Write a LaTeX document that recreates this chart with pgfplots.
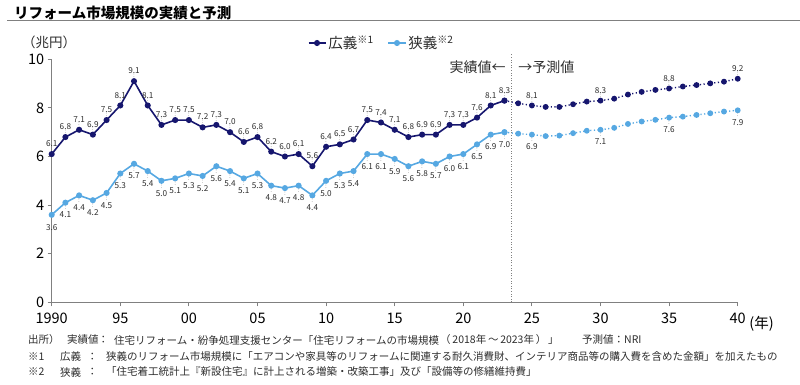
\documentclass[border=0pt]{standalone}
\usepackage{pgfplots}
\pgfplotsset{compat=1.18}
\usepackage{fontspec}
\setmainfont{Noto Sans CJK JP}
\definecolor{navy}{RGB}{22,22,110}
\definecolor{lblue}{RGB}{86,168,226}
\definecolor{axgray}{RGB}{128,128,128}
\definecolor{txt}{RGB}{45,45,45}
\pgfplotsset{
  lblabove/.style={nodes near coords={\shortstack{\pgfmathprintnumber[fixed,precision=1,zerofill]{\pgfplotspointmeta}\\[-3pt]{\color{gray}\fontsize{6.5}{6.5}\selectfont :}}},
    every node near coord/.style={font=\fontsize{8.2}{9}\selectfont, text=txt, anchor=south, inner sep=0pt, yshift=3pt}},
  lblbelow/.style={nodes near coords={\shortstack{{\color{gray}\fontsize{6.5}{6.5}\selectfont :}\\[-1pt]\pgfmathprintnumber[fixed,precision=1,zerofill]{\pgfplotspointmeta}}},
    every node near coord/.style={font=\fontsize{8.2}{9}\selectfont, text=txt, anchor=north, inner sep=0pt, yshift=-3pt}},
}
\begin{document}
\begin{tikzpicture}[x=1pt,y=1pt]
\useasboundingbox (0pt,0pt) rectangle (800pt,384pt);
\node[anchor=west,inner sep=0pt,font=\fontsize{14.5}{16}\selectfont\bfseries,text=black] at (14pt,371.5pt) {リフォーム市場規模の実績と予測};
\draw[axgray,line width=1.3] (7pt,363.3pt) -- (800pt,363.3pt);
\node[anchor=west,inner sep=0pt,font=\fontsize{13.5}{15}\selectfont,text=txt] at (22pt,342pt) {（兆円）};
\begin{axis}[at={(51.7pt,81.7pt)}, anchor=south west, scale only axis,
  width=686pt, height=243pt,
  xmin=1990, xmax=2040, ymin=0, ymax=10,
  axis lines=left, axis line style={axgray, line width=1.2pt, -},
  xtick={1990,1995,...,2040},
  xticklabels={1990,95,00,05,10,15,20,25,30,35,40},
  ytick={0,2,...,10},
  tick align=outside, major tick length=4pt,
  tick style={axgray, line width=1pt},
  ticklabel style={font=\fontsize{14.5}{16}\selectfont, text=black},
  xticklabel style={yshift=-3pt},
  /pgf/number format/assume math mode=true,
  clip=false,
  legend style={at={(0.481,1.067)}, anchor=center, draw=none, fill=none,
    font=\fontsize{14.5}{16}\selectfont, text=txt,
    legend columns=2, /tikz/every even column/.append style={column sep=12pt}},
]
\addplot[navy, line width=1.6pt, mark=*, mark size=2.2pt, point meta=y, lblabove] table {
1990 6.1
1991 6.8
1992 7.1
1993 6.9
1994 7.5
1995 8.1
1996 9.1
1997 8.1
1998 7.3
1999 7.5
2000 7.5
2001 7.2
2002 7.3
2003 7.0
2004 6.6
2005 6.8
2006 6.2
2007 6.0
2008 6.1
2009 5.6
2010 6.4
2011 6.5
2012 6.7
2013 7.5
2014 7.4
2015 7.1
2016 6.8
2017 6.9
2018 6.9
2019 7.3
2020 7.3
2021 7.6
2022 8.1
2023 8.3
};
\addlegendentry{広義\textsuperscript{※1}}
\addplot[lblue, line width=1.6pt, mark=*, mark size=2.2pt, point meta=y, lblbelow] table {
1990 3.6
1991 4.1
1992 4.4
1993 4.2
1994 4.5
1995 5.3
1996 5.7
1997 5.4
1998 5.0
1999 5.1
2000 5.3
2001 5.2
2002 5.6
2003 5.4
2004 5.1
2005 5.3
2006 4.8
2007 4.7
2008 4.8
2009 4.4
2010 5.0
2011 5.3
2012 5.4
2013 6.1
2014 6.1
2015 5.9
2016 5.6
2017 5.8
2018 5.7
2019 6.0
2020 6.1
2021 6.5
2022 6.9
2023 7.0
};
\addlegendentry{狭義\textsuperscript{※2}}
\addplot[navy, line width=1.4pt, dash pattern=on 1.2pt off 2.4pt, mark=*, mark size=2.2pt, mark options={solid}, forget plot] table {
2023 8.3
2024 8.19
2025 8.1
2026 8.04
2027 8.04
2028 8.15
2029 8.26
2030 8.3
2031 8.38
2032 8.55
2033 8.66
2034 8.74
2035 8.8
2036 8.88
2037 8.94
2038 9.01
2039 9.08
2040 9.2
};
\addplot[lblue, line width=1.4pt, dash pattern=on 1.2pt off 2.4pt, mark=*, mark size=2.2pt, mark options={solid}, forget plot] table {
2023 7.0
2024 6.94
2025 6.9
2026 6.84
2027 6.86
2028 6.96
2029 7.06
2030 7.1
2031 7.18
2032 7.34
2033 7.44
2034 7.51
2035 7.6
2036 7.64
2037 7.71
2038 7.78
2039 7.85
2040 7.9
};
\addplot[draw=none, mark=none, point meta=y, lblabove, forget plot] table {
2025 8.1
2030 8.3
2035 8.8
2040 9.2
};
\addplot[draw=none, mark=none, point meta=y, lblbelow, forget plot] table {
2025 6.9
2030 7.1
2035 7.6
2040 7.9
};
\draw[axgray, dash pattern=on 1pt off 1.6pt, line width=1pt] (axis cs:2023.5,0) -- (axis cs:2023.5,10.2);
\node[anchor=east, inner sep=0pt, font=\fontsize{14}{16}\selectfont, text=txt] at (axis cs:2023.1,9.68) {実績値←};
\node[anchor=west, inner sep=0pt, font=\fontsize{14}{16}\selectfont, text=txt] at (axis cs:2024.0,9.68) {→予測値};
\node[anchor=west, inner sep=0pt, font=\fontsize{14.5}{16}\selectfont, text=black] at (axis cs:2040.6,0) [yshift=-21pt] {\ (年)};
\end{axis}
\begin{scope}[every node/.style={anchor=west, inner sep=0pt, font=\fontsize{10.5}{12}\selectfont, text=txt}]
\node at (28pt,44pt) {出所）};
\node at (67pt,44pt) {実績値};
\node at (98pt,44pt) {：};
\node at (114pt,44pt) {住宅リフォーム・紛争処理支援センター「住宅リフォームの市場規模};
\node at (440pt,44pt) {（\,2018年\,～\,2023年\,）\,」};
\node at (582pt,44pt) {予測値：NRI};
\node at (28pt,27pt) {※1};
\node at (60pt,27pt) {広義};
\node at (87pt,27pt) {：};
\node at (106pt,27pt) {狭義のリフォーム市場規模に「エアコンや家具等のリフォームに関連する耐久消費財、インテリア商品等の購入費を含めた金額」を加えたもの};
\node at (28pt,12pt) {※2};
\node at (60pt,12pt) {狭義};
\node at (87pt,12pt) {：};
\node at (106pt,12pt) {「住宅着工統計上『新設住宅』に計上される増築・改築工事」及び「設備等の修繕維持費」};
\end{scope}
\end{tikzpicture}
\end{document}
